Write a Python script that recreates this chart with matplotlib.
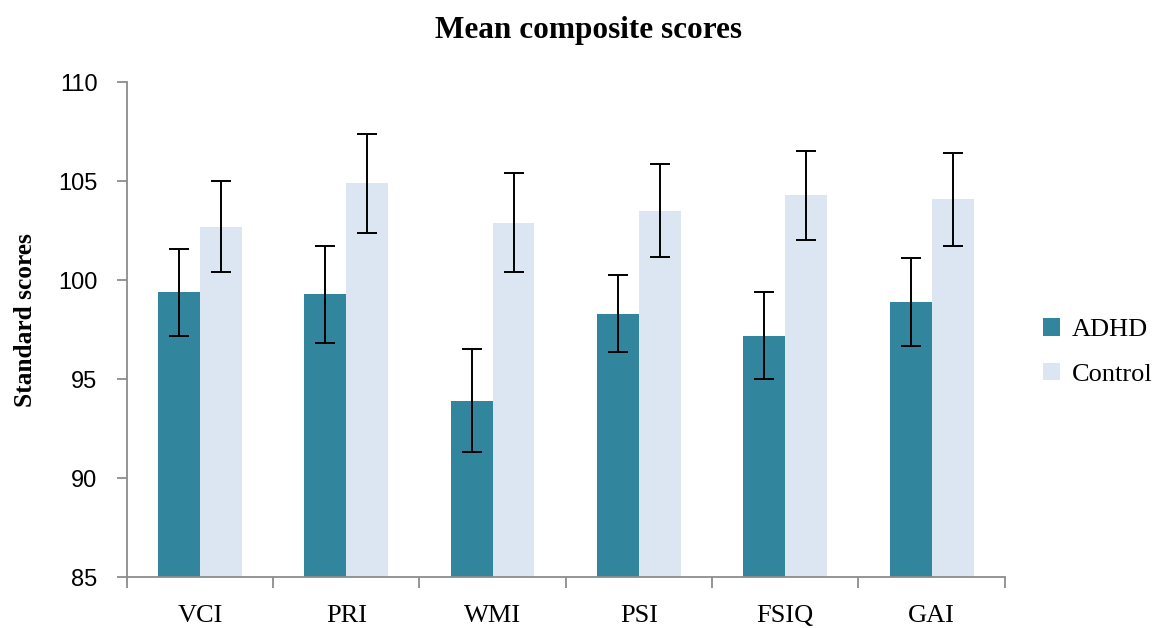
import matplotlib.pyplot as plt
import numpy as np

categories = ['VCI', 'PRI', 'WMI', 'PSI', 'FSIQ', 'GAI']
adhd = [99.4, 99.3, 93.9, 98.3, 97.2, 98.9]
adhd_err = [2.2, 2.45, 2.6, 1.95, 2.2, 2.2]
control = [102.7, 104.9, 102.9, 103.5, 104.3, 104.1]
control_err = [2.3, 2.5, 2.5, 2.35, 2.25, 2.35]

serif = 'Liberation Serif'
grey = '#8c8c8c'

fig = plt.figure(figsize=(11.63, 6.28), dpi=100)
ax = fig.add_axes([0.109, 0.081, 0.755, 0.788])

x = np.arange(len(categories))
w = 0.286
errkw = dict(ecolor='black', elinewidth=1.4, capsize=7, capthick=1.4)
ax.bar(x - w/2, adhd, w, color='#31859C', yerr=adhd_err,
       error_kw=errkw, label='ADHD', zorder=2)
ax.bar(x + w/2, control, w, color='#DCE6F2', yerr=control_err,
       error_kw=errkw, label='Control', zorder=2)

ax.set_ylim(85, 110)
ax.set_xlim(-0.5, len(categories) - 0.5)
ax.set_yticks([85, 90, 95, 100, 105, 110])
ax.set_yticklabels(['85', '90', '95', '100', '105', '110'],
                   fontfamily='Liberation Sans', fontsize=17)

# category labels centred, ticks at category boundaries
ax.set_xticks(np.arange(-0.5, len(categories)), minor=False)
ax.set_xticklabels([])
ax.set_xticks(x, minor=True)
ax.set_xticklabels(categories, minor=True, fontfamily=serif, fontsize=19)
ax.tick_params(axis='x', which='minor', length=0, pad=20)
ax.tick_params(axis='x', which='major', length=8, color=grey, width=1.3, direction='out')
ax.tick_params(axis='y', length=7, color=grey, width=1.3, pad=14)

for s in ['top', 'right']:
    ax.spines[s].set_visible(False)
for s in ['left', 'bottom']:
    ax.spines[s].set_color(grey)
    ax.spines[s].set_linewidth(1.3)

fig.text(0.022, 0.49, 'Standard scores', rotation=90, ha='center', va='center',
         fontfamily=serif, fontweight='bold', fontsize=18.3)
fig.text(0.506, 0.952, 'Mean composite scores', ha='center', va='center',
         fontfamily=serif, fontweight='bold', fontsize=22.5)

ax.legend(loc='center left', bbox_to_anchor=(1.016, 0.455), frameon=False,
          prop={'family': serif, 'size': 19}, handlelength=0.65, handleheight=0.65,
          handletextpad=0.45, labelspacing=0.8)

fig.savefig('out.png', dpi=100)
